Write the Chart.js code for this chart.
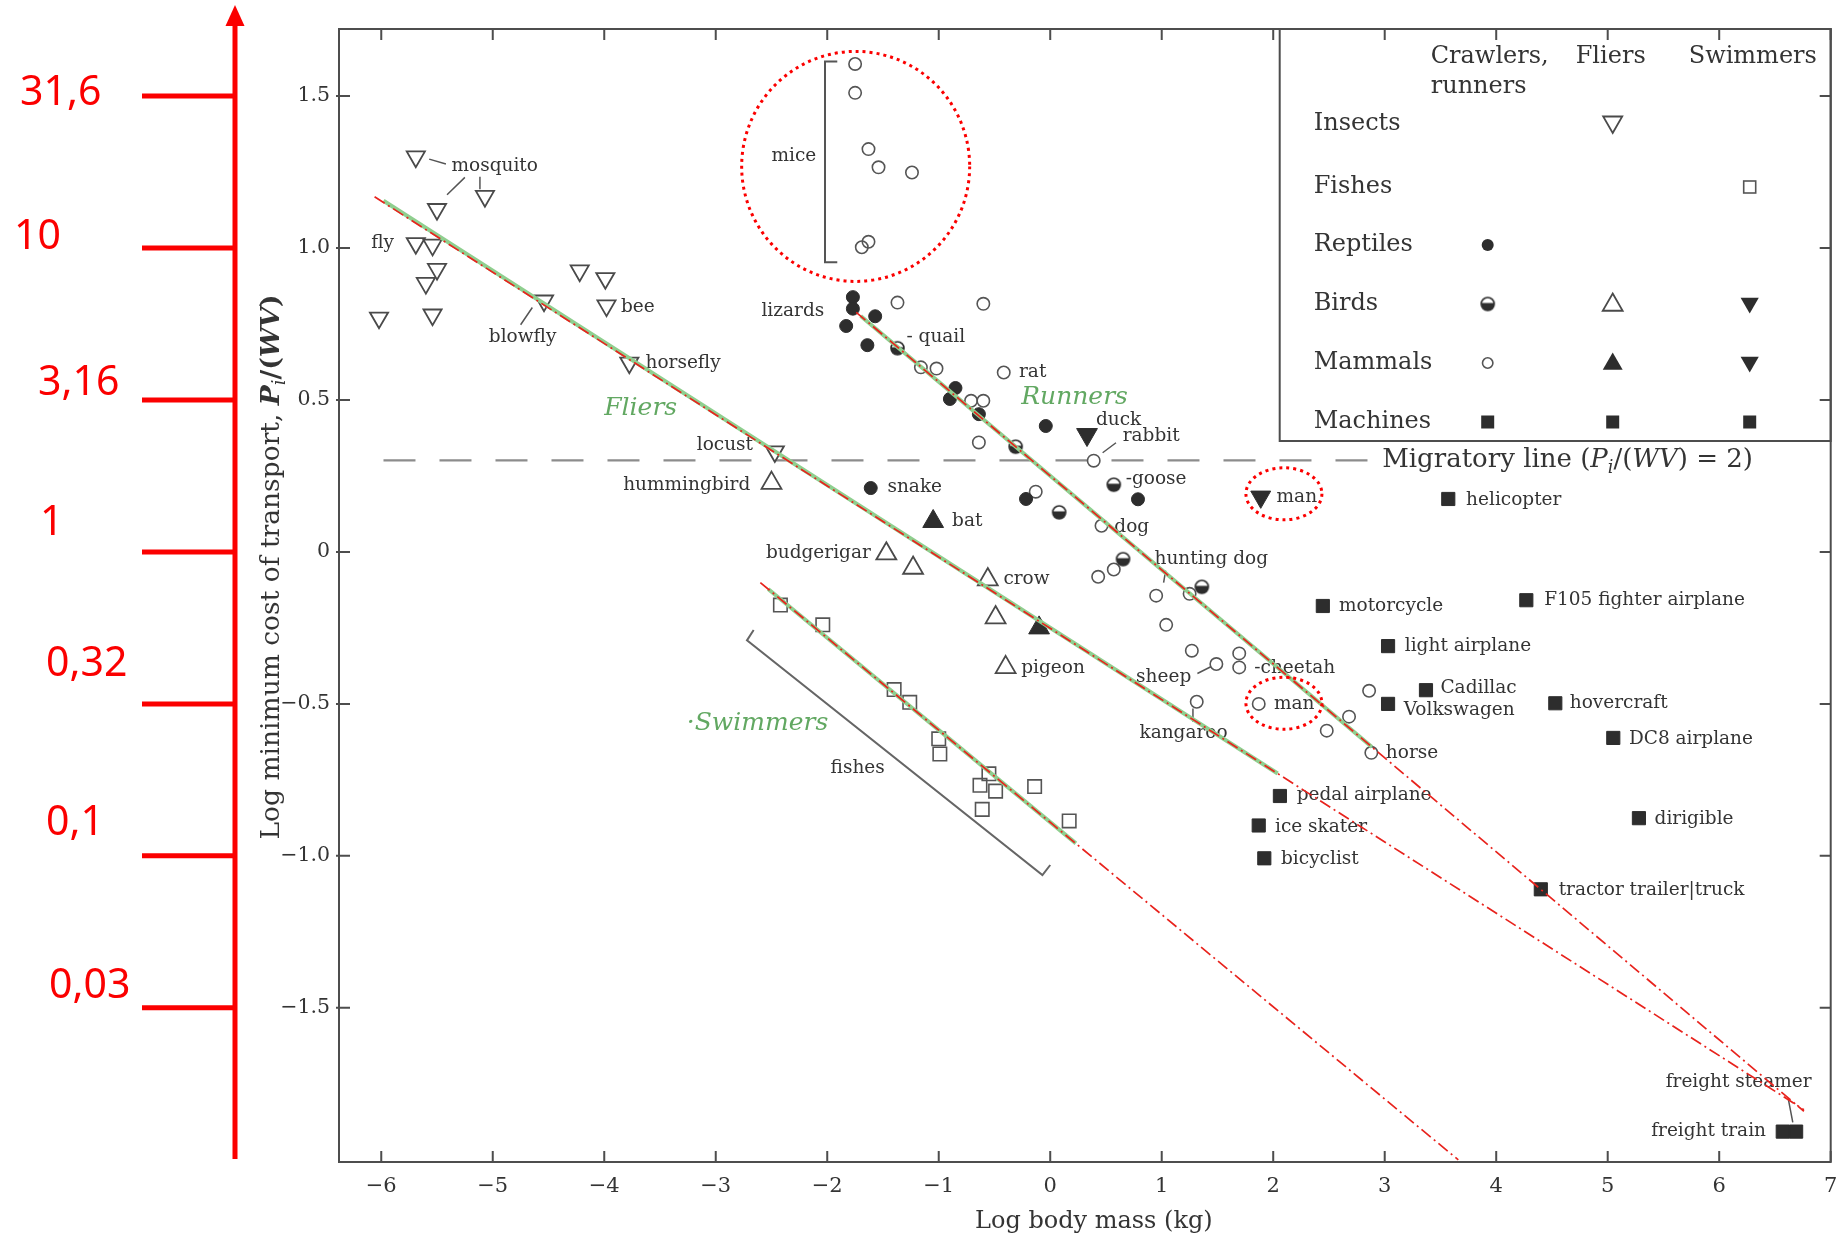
<!DOCTYPE html>
<html>
<head>
<meta charset="utf-8">
<title>Minimum cost of transport vs body mass</title>
<script src="https://cdn.jsdelivr.net/npm/chart.js@4.4.1/dist/chart.umd.min.js"></script>
<style>
html,body{margin:0;padding:0;background:#fff;}
#box{width:1844px;height:1246px;}
canvas{display:block;}
</style>
</head>
<body>
<div id="box"><canvas id="chart" width="1844" height="1246"></canvas></div>
<script>
// ---------------- data (log10 body mass kg, log10 Pi/(WV)) ----------------
const xTicks = [-6,-5,-4,-3,-2,-1,0,1,2,3,4,5,6,7];
const yTicks = [-1.5,-1,-0.5,0,0.5,1,1.5];
const redTickValues = [1.5,1,0.5,0,-0.5,-1,-1.5];
const redTickLabels = ['31,6','10','3,16','1','0,32','0,1','0,03'];

const insects = [[-5.69,1.30],[-5.50,1.127],[-5.07,1.17],[-5.69,1.015],[-5.54,1.01],[-5.50,0.93],[-5.60,0.884],[-6.02,0.77],[-5.54,0.78],[-4.54,0.826],[-4.22,0.925],[-3.99,0.90],[-3.98,0.81],[-3.775,0.622],[-2.47,0.33]];
const fishes = [[-2.42,-0.175],[-2.04,-0.24],[-1.40,-0.453],[-1.26,-0.495],[-1.00,-0.615],[-0.99,-0.665],[-0.55,-0.73],[-0.63,-0.768],[-0.49,-0.787],[-0.14,-0.772],[-0.61,-0.847],[0.17,-0.885]];
const reptiles = [[-1.77,0.838],[-1.77,0.80],[-1.83,0.743],[-1.57,0.775],[-1.64,0.68],[-0.85,0.539],[-0.90,0.503],[-0.64,0.453],[-0.04,0.414],[-0.217,0.174],[0.787,0.173],[-1.61,0.21]];
const birdsRunners = [[-1.37,0.67],[-0.31,0.346],[0.08,0.13],[0.57,0.221],[0.653,-0.024],[1.36,-0.115]];
const birdsFliers = [[-2.50,0.226],[-1.47,-0.006],[-1.23,-0.053],[-0.56,-0.091],[-0.49,-0.216],[-0.40,-0.38]];
const birdsSwimmers = [[0.33,0.386]];
const mammalsRunners = [[-1.75,1.605],[-1.75,1.51],[-1.63,1.325],[-1.54,1.265],[-1.24,1.248],[-1.63,1.02],[-1.69,1.002],[-1.37,0.82],[-0.60,0.816],[-1.16,0.607],[-1.02,0.603],[-0.417,0.59],[-0.71,0.497],[-0.60,0.497],[-0.64,0.36],[-0.13,0.198],[0.39,0.30],[0.46,0.086],[0.43,-0.082],[0.57,-0.058],[0.95,-0.144],[1.25,-0.138],[1.04,-0.24],[1.27,-0.325],[1.49,-0.369],[1.695,-0.334],[1.695,-0.38],[1.314,-0.493],[1.87,-0.50],[2.48,-0.588],[2.68,-0.542],[2.86,-0.457],[2.88,-0.661]];
const mammalsFliers = [[-1.05,0.10],[-0.10,-0.25]];
const mammalsSwimmers = [[1.888,0.181]];
const machines = [[3.57,0.174],[2.445,-0.178],[4.27,-0.159],[3.03,-0.31],[3.37,-0.455],[3.03,-0.50],[4.53,-0.498],[5.05,-0.612],[2.06,-0.803],[1.87,-0.90],[1.92,-1.008],[5.28,-0.876],[4.40,-1.11],[6.57,-1.907],[6.69,-1.907]];

// fitted lines (end points)
const fliersFit = [[-5.98,1.155],[2.04,-0.729]];
const fliersTrend = [[-6.06,1.168],[6.76,-1.835]];
const runnersFit = [[-1.70,0.776],[2.885,-0.642]];
const runnersTrend = [[-1.74,0.788],[6.76,-1.84]];
const swimmersFit = [[-2.53,-0.122],[0.23,-0.959]];
const swimmersTrend = [[-2.60,-0.101],[3.66,-2.0]];
const migratoryLine = [[-5.98,0.301],[2.85,0.301]];
const fishesBracket = [[-2.66,-0.257],[-2.72,-0.291],[-0.07,-1.063],[0.0,-1.03]];
const miceBracket = [[-1.91,1.613],[-2.02,1.613],[-2.02,0.953],[-1.91,0.953]];

// text annotations: [text, x, y] (left edge, vertical middle, in data units)
const pointLabels = [
 ['mosquito',-5.37,1.27],['fly',-6.09,1.015],['blowfly',-5.035,0.706],['bee',-3.85,0.804],
 ['horsefly',-3.63,0.62],['locust',-3.17,0.351],['hummingbird',-3.83,0.22],['mice',-2.50,1.30],
 ['lizards',-2.59,0.792],['- quail',-1.29,0.707],['rat',-0.28,0.59],['duck',0.41,0.432],
 ['rabbit',0.65,0.379],['-goose',0.677,0.24],['snake',-1.46,0.212],['bat',-0.88,0.10],
 ['dog',0.575,0.08],['hunting dog',0.935,-0.025],['budgerigar',-2.55,-0.004],['crow',-0.42,-0.089],
 ['pigeon',-0.26,-0.383],['sheep',0.77,-0.413],['-cheetah',1.83,-0.383],['kangaroo',0.80,-0.597],
 ['man',2.007,-0.50],['man',2.03,0.179],['horse',3.01,-0.662],['helicopter',3.73,0.17],
 ['motorcycle',2.59,-0.178],['F105 fighter airplane',4.43,-0.159],['light airplane',3.18,-0.31],
 ['Cadillac',3.50,-0.449],['Volkswagen',3.17,-0.522],['hovercraft',4.66,-0.499],['DC8 airplane',5.19,-0.615],
 ['pedal airplane',2.21,-0.801],['ice skater',2.016,-0.905],['bicyclist',2.07,-1.01],['dirigible',5.42,-0.878],
 ['tractor trailer|truck',4.56,-1.113],['freight steamer',5.52,-1.746],['freight train',5.39,-1.906],
 ['fishes',-1.97,-0.712]
];
const groupLabels = [['Fliers',-4.00,0.471],['Runners',-0.26,0.508],['\u00b7Swimmers',-3.26,-0.565]];
const migratoryLabelPos = [2.977,0.301];
const leaders = [
 [[-5.57,1.292],[-5.42,1.276]],[[-5.41,1.175],[-5.25,1.232]],[[-5.115,1.234],[-5.115,1.193]],
 [[-4.645,0.804],[-4.75,0.747]],[[0.47,0.326],[0.59,0.359]],[[1.32,-0.40],[1.44,-0.378]],
 [[1.28,-0.515],[1.28,-0.559]],[[1.035,-0.062],[1.017,-0.101]],[[6.62,-1.80],[6.66,-1.877]]
];
// red dotted highlight ellipses: centre in data units, radii in px
const highlights = [[-1.745,1.268,114,115],[2.096,0.191,38,26],[2.096,-0.498,38,26]];

// ---------------- styles ----------------
const SERIF = '"DejaVu Serif", "Liberation Serif", serif';
const RED_FONT = '"Noto Sans", "Open Sans", sans-serif';
const INK = '#343434';
const DARK = '#2d2d2d';
const FRAME = '#4d4d4d';
const RED = '#fb0000';
const GREEN_TXT = '#62a862';
const CLEAR = 'rgba(255,255,255,0)';

const P = a => a.map(p => ({x: p[0], y: p[1]}));

function halfDisc(r) {
  const s = Math.ceil(2 * r + 4), c = document.createElement('canvas');
  c.width = s; c.height = s;
  const g = c.getContext('2d'), m = s / 2;
  g.fillStyle = '#fff'; g.beginPath(); g.arc(m, m, r, 0, 2 * Math.PI); g.fill();
  g.fillStyle = DARK; g.beginPath(); g.arc(m, m, r, -0.15, Math.PI + 0.15); g.closePath(); g.fill();
  g.lineWidth = 1.6; g.strokeStyle = DARK; g.beginPath(); g.arc(m, m, r, 0, 2 * Math.PI); g.stroke();
  return c;
}
const HALF = halfDisc(6.5);

function markers(data, style, radius, rotation, fill, border, bw) {
  return {data: P(data), pointStyle: style, pointRadius: radius, pointHoverRadius: radius,
          pointRotation: rotation, backgroundColor: fill, borderColor: border, borderWidth: bw,
          showLine: false, order: 2};
}
function line(pts, color, width, dash, order) {
  return {data: P(pts), showLine: true, borderColor: color, borderWidth: width, borderDash: dash,
          pointRadius: 0, pointHoverRadius: 0, fill: false, tension: 0, order: order,
          borderCapStyle: 'butt'};
}

const datasets = [
  line(fliersTrend, '#e8231d', 1.7, [12,4,2,4], 0),
  line(runnersTrend, '#e8231d', 1.7, [12,4,2,4], 0),
  line(swimmersTrend, '#e8231d', 1.7, [12,4,2,4], 0),
  line(fliersFit, '#8fcf8f', 4, [], 1),
  line(runnersFit, '#8fcf8f', 4, [], 1),
  line(swimmersFit, '#8fcf8f', 4, [], 1),
  markers(insects, 'triangle', 10.5, 180, CLEAR, '#4a4a4a', 1.8),
  markers(fishes, 'rect', 9.5, 0, CLEAR, '#555', 1.6),
  markers(reptiles, 'circle', 6.5, 0, DARK, DARK, 1),
  markers(birdsRunners, HALF, 6.5, 0, DARK, DARK, 1),
  markers(birdsFliers, 'triangle', 11.5, 0, CLEAR, '#4a4a4a', 1.8),
  markers(birdsSwimmers, 'triangle', 12, 180, DARK, DARK, 1),
  markers(mammalsRunners, 'circle', 6.2, 0, CLEAR, '#555', 1.6),
  markers(mammalsFliers, 'triangle', 12, 0, DARK, DARK, 1),
  markers(mammalsSwimmers, 'triangle', 11.5, 180, DARK, DARK, 1),
  markers(machines, 'rect', 9.3, 0, DARK, DARK, 1),
  line(migratoryLine, '#8c8c8c', 2.2, [32,24], 3),
  line(fishesBracket, '#666', 2, [], 3),
  line(miceBracket, '#555', 2, [], 3)
];

// ---------------- helpers ----------------
function rich(ctx, parts, size) {
  let w = 0; const ops = [];
  for (const p of parts) {
    const fs = p.sub ? size * 0.68 : size;
    const font = (p.it ? 'italic ' : '') + (p.b ? 'bold ' : '') + fs + 'px ' + SERIF;
    ctx.font = font;
    const tw = ctx.measureText(p.t).width;
    ops.push({t: p.t, font: font, dx: w, dy: p.sub ? size * 0.3 : 0});
    w += tw;
  }
  return {ops: ops, width: w};
}
function drawRich(ctx, r, x, y) {
  for (const o of r.ops) { ctx.font = o.font; ctx.fillText(o.t, x + o.dx, y + o.dy); }
}
function tri(ctx, x, y, r, down) {
  const k = down ? -1 : 1;
  ctx.beginPath();
  ctx.moveTo(x, y - k * r);
  ctx.lineTo(x + r * 0.866, y + k * r * 0.5);
  ctx.lineTo(x - r * 0.866, y + k * r * 0.5);
  ctx.closePath();
}
function sym(ctx, kind, x, y) {
  ctx.save();
  ctx.lineWidth = 1.6; ctx.strokeStyle = DARK; ctx.fillStyle = DARK;
  if (kind === 'triDownOpen') { ctx.strokeStyle = '#4a4a4a'; ctx.lineWidth = 1.8; tri(ctx, x, y - 2, 11, true); ctx.stroke(); }
  else if (kind === 'triUpOpen') { ctx.strokeStyle = '#4a4a4a'; ctx.lineWidth = 1.8; tri(ctx, x, y + 1, 11.5, false); ctx.stroke(); }
  else if (kind === 'triUpFill') { tri(ctx, x, y + 1, 11.5, false); ctx.fill(); }
  else if (kind === 'triDownFill') { tri(ctx, x, y - 1, 10.5, true); ctx.fill(); }
  else if (kind === 'dot') { ctx.beginPath(); ctx.arc(x, y, 6, 0, 2 * Math.PI); ctx.fill(); }
  else if (kind === 'ring') { ctx.strokeStyle = '#555'; ctx.beginPath(); ctx.arc(x, y, 5.2, 0, 2 * Math.PI); ctx.stroke(); }
  else if (kind === 'half') { ctx.drawImage(HALF, x - HALF.width / 2, y - HALF.height / 2); }
  else if (kind === 'sqOpen') { ctx.strokeStyle = '#555'; ctx.strokeRect(x - 6, y - 6, 12, 12); }
  else if (kind === 'sqFill') { ctx.fillRect(x - 6.5, y - 6.5, 13, 13); }
  ctx.restore();
}

const legendRows = ['Insects','Fishes','Reptiles','Birds','Mammals','Machines'];
const legendSymbols = [
  [0,1,'triDownOpen'],[1,2,'sqOpen'],[2,0,'dot'],
  [3,0,'half'],[3,1,'triUpOpen'],[3,2,'triDownFill'],
  [4,0,'ring'],[4,1,'triUpFill'],[4,2,'triDownFill'],
  [5,0,'sqFill'],[5,1,'sqFill'],[5,2,'sqFill']
];

const overlay = {
  id: 'overlay',
  beforeDatasetsDraw(chart) {
    const ctx = chart.ctx, a = chart.chartArea, xs = chart.scales.x, ys = chart.scales.y;
    const px = v => xs.getPixelForValue(v), py = v => ys.getPixelForValue(v);
    ctx.save();
    // frame + inward ticks
    ctx.strokeStyle = FRAME; ctx.lineWidth = 2;
    ctx.strokeRect(a.left, a.top, a.right - a.left, a.bottom - a.top);
    ctx.beginPath();
    xTicks.forEach(v => { const X = px(v);
      ctx.moveTo(X, a.bottom); ctx.lineTo(X, a.bottom - 11);
      ctx.moveTo(X, a.top); ctx.lineTo(X, a.top + 11); });
    yTicks.forEach(v => { const Y = py(v);
      ctx.moveTo(a.left - 3, Y); ctx.lineTo(a.left + 11, Y);
      ctx.moveTo(a.right, Y); ctx.lineTo(a.right - 11, Y); });
    ctx.stroke();

    // leader lines
    ctx.strokeStyle = '#555'; ctx.lineWidth = 1.5;
    ctx.beginPath();
    leaders.forEach(s => { ctx.moveTo(px(s[0][0]), py(s[0][1])); ctx.lineTo(px(s[1][0]), py(s[1][1])); });
    ctx.stroke();

    // point labels
    ctx.fillStyle = INK; ctx.textBaseline = 'middle'; ctx.textAlign = 'left';
    ctx.font = '18.5px ' + SERIF;
    pointLabels.forEach(l => ctx.fillText(l[0], px(l[1]), py(l[2])));

    // group labels
    ctx.fillStyle = GREEN_TXT; ctx.font = 'italic 25px ' + SERIF;
    groupLabels.forEach(l => ctx.fillText(l[0], px(l[1]), py(l[2])));

    // migratory label
    ctx.fillStyle = INK;
    const mig = rich(ctx, [{t:'Migratory line ('},{t:'P',it:1},{t:'i',it:1,sub:1},{t:'/('},{t:'WV',it:1},{t:') = 2)'}], 26);
    drawRich(ctx, mig, px(migratoryLabelPos[0]), py(migratoryLabelPos[1]));

    // legend table
    const L = a.right - 551, T = a.top;
    ctx.strokeStyle = FRAME; ctx.lineWidth = 2;
    ctx.strokeRect(L, T, a.right - L, 412);
    ctx.fillStyle = INK; ctx.font = '24px ' + SERIF; ctx.textBaseline = 'middle';
    ctx.fillText('Crawlers,', L + 151, T + 28);
    ctx.fillText('runners', L + 151, T + 58);
    ctx.fillText('Fliers', L + 296, T + 28);
    ctx.fillText('Swimmers', L + 409, T + 28);
    const rowY = [95, 158, 216, 275, 334, 393];
    const colX = [208, 333, 470];
    legendRows.forEach((r, i) => ctx.fillText(r, L + 34, T + rowY[i]));
    legendSymbols.forEach(s => sym(ctx, s[2], L + colX[s[1]], T + rowY[s[0]]));

    // axis titles
    ctx.fillStyle = INK; ctx.textBaseline = 'middle'; ctx.textAlign = 'center';
    ctx.font = '24px ' + SERIF;
    ctx.fillText('Log body mass (kg)', (a.left + a.right) / 2 + 9, 1222);
    ctx.textAlign = 'left';
    const yt = rich(ctx, [{t:'Log minimum cost of transport, '},{t:'P',it:1,b:1},{t:'i',it:1,sub:1},{t:'/(',b:1},{t:'WV',it:1,b:1},{t:')',b:1}], 26.5);
    ctx.save();
    ctx.translate(272, 567); ctx.rotate(-Math.PI / 2);
    drawRich(ctx, yt, -yt.width / 2, 0);
    ctx.restore();
    ctx.restore();
  },
  afterDraw(chart) {
    const ctx = chart.ctx, xs = chart.scales.x, ys = chart.scales.y;
    const px = v => xs.getPixelForValue(v), py = v => ys.getPixelForValue(v);
    ctx.save();
    // red dotted highlight ellipses
    ctx.strokeStyle = RED; ctx.lineWidth = 3; ctx.setLineDash([3, 4]);
    highlights.forEach(h => { ctx.beginPath(); ctx.ellipse(px(h[0]), py(h[1]), h[2], h[3], 0, 0, 2 * Math.PI); ctx.stroke(); });
    ctx.setLineDash([]);
    // red secondary axis (linear values of the log scale)
    const AX = 235;
    ctx.strokeStyle = RED; ctx.fillStyle = RED; ctx.lineWidth = 5;
    ctx.beginPath(); ctx.moveTo(AX, 20); ctx.lineTo(AX, 1159); ctx.stroke();
    ctx.beginPath(); ctx.moveTo(AX, 5); ctx.lineTo(AX + 9.5, 26); ctx.lineTo(AX - 9.5, 26); ctx.closePath(); ctx.fill();
    const labelX = [20, 14, 38, 40, 46, 46, 49];
    const labelDy = [-3, -11, -17, -29, -40, -33, -22];
    ctx.font = '41px ' + RED_FONT; ctx.textBaseline = 'middle'; ctx.textAlign = 'left';
    redTickValues.forEach((v, i) => {
      const Y = py(v);
      ctx.beginPath(); ctx.moveTo(142, Y); ctx.lineTo(AX, Y); ctx.stroke();
      ctx.fillText(redTickLabels[i], labelX[i], Y + labelDy[i]);
    });
    ctx.restore();
  }
};

const minus = s => String(s).replace('-', '\u2212');

new Chart(document.getElementById('chart'), {
  type: 'scatter',
  data: {datasets: datasets},
  options: {
    responsive: false, animation: false, devicePixelRatio: 1, events: [],
    layout: {padding: {left: 250, right: 7, top: 29, bottom: 5}},
    plugins: {legend: {display: false}, tooltip: {enabled: false}},
    scales: {
      x: {
        type: 'linear', min: -6.379, max: 7.0,
        afterBuildTicks: s => { s.ticks = xTicks.map(v => ({value: v})); },
        afterFit: s => { s.height = 79; s.paddingLeft = 0; s.paddingRight = 0; },
        grid: {display: false, drawTicks: false}, border: {display: false},
        ticks: {color: INK, padding: 12, font: {family: SERIF, size: 21},
                callback: v => minus(v)},
        title: {display: false}
      },
      y: {
        type: 'linear', min: -2.007, max: 1.72,
        afterBuildTicks: s => { s.ticks = yTicks.map(v => ({value: v})); },
        afterFit: s => { s.width = 89; s.paddingTop = 0; s.paddingBottom = 0; },
        grid: {display: false, drawTicks: false}, border: {display: false},
        ticks: {color: INK, padding: 9, font: {family: SERIF, size: 20.5},
                callback: v => v === 0 ? '0' : minus(v.toFixed(1))}
      }
    }
  },
  plugins: [overlay]
});
</script>
</body>
</html>
